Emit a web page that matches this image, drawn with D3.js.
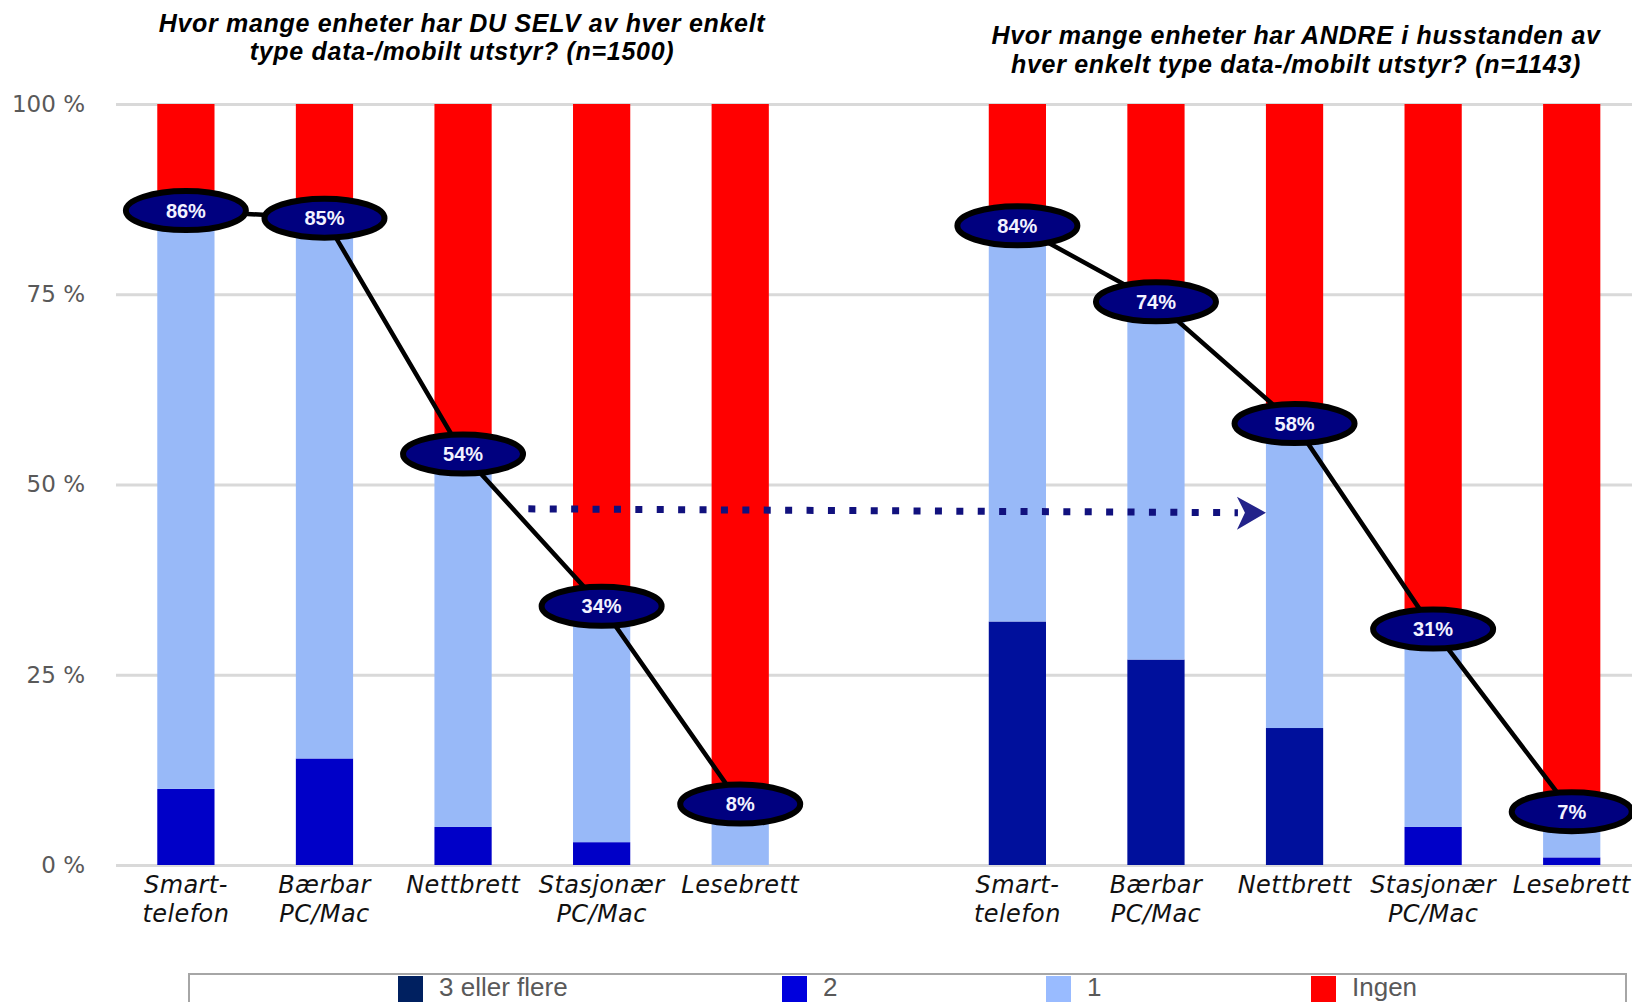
<!DOCTYPE html>
<html>
<head>
<meta charset="utf-8">
<script src="https://cdn.jsdelivr.net/npm/d3@7"></script>
<style>
  html, body { margin: 0; padding: 0; background: #ffffff; }
  svg { display: block; }
</style>
</head>
<body>
<svg id="chart" width="1632" height="1002"></svg>
<script>
// ---------------- data ----------------
const categories = ["Smart-\ntelefon", "Bærbar\nPC/Mac", "Nettbrett", "Stasjonær\nPC/Mac", "Lesebrett"];
const seriesNames = ["3 eller flere", "2", "1", "Ingen"];

// "DU SELV" (n=1500)
const selvTreEllerFlere = [0, 0, 0, 0, 0];
const selvTo = [10, 14, 5, 3, 0];
const selvEn = [76, 71, 49, 31, 8];
const selvIngen = [14, 15, 46, 66, 92];
const selvTotal = [86, 85, 54, 34, 8];

// "ANDRE i husstanden" (n=1143)
const andreTreEllerFlere = [32, 27, 18, 0, 0];
const andreTo = [0, 0, 0, 5, 1];
const andreEn = [52, 47, 40, 26, 6];
const andreIngen = [16, 26, 42, 69, 93];
const andreTotal = [84, 74, 58, 31, 7];

const yTicks = [0, 25, 50, 75, 100];
const titleSelv = ["Hvor mange enheter har DU SELV av hver enkelt", "type data-/mobilt utstyr? (n=1500)"];
const titleAndre = ["Hvor mange enheter har ANDRE i husstanden av", "hver enkelt type data-/mobilt utstyr? (n=1143)"];

// annotation arrow (value level in %)
const arrowFromValue = 46.8;
const arrowToValue = 46.3;

// ---------------- build ----------------
const slotsL = categories.map((c, i) => "L" + i);
const slotsR = categories.map((c, i) => "R" + i);
const slots = [...slotsL, "gap", ...slotsR];
const labelOf = {};
categories.forEach((c, i) => { labelOf["L" + i] = c; labelOf["R" + i] = c; });

const keys = ["tre", "to", "en", "ingen"];
const rows = [];
categories.forEach((c, i) => rows.push({ slot: "L" + i, tre: selvTreEllerFlere[i], to: selvTo[i], en: selvEn[i], ingen: selvIngen[i] }));
categories.forEach((c, i) => rows.push({ slot: "R" + i, tre: andreTreEllerFlere[i], to: andreTo[i], en: andreEn[i], ingen: andreIngen[i] }));

const barColors = { tre: "#00109c", to: "#0000c8", en: "#98b9f8", ingen: "#ff0000" };
const legendColors = ["#002060", "#0000dd", "#99bbff", "#ff0000"];

const svg = d3.select("#chart");
const W = 1632;

const x = d3.scaleBand().domain(slots).range([116.6, 1641]).paddingInner(0.587).paddingOuter(0.2935);
const y = d3.scaleLinear().domain([0, 100]).range([865, 104]);

// grid + y axis
const yAxis = d3.axisLeft(y).tickValues(yTicks).tickFormat(d => d + " %").tickSize(-(W - 116)).tickPadding(31);
const gy = svg.append("g").attr("transform", "translate(116,0)").call(yAxis);
gy.select(".domain").remove();
gy.selectAll(".tick line").attr("stroke", "#d9d9d9").attr("stroke-width", 3);
gy.selectAll(".tick text")
  .attr("fill", "#595959")
  .style("font-family", "'DejaVu Sans', sans-serif")
  .style("font-size", "23px");

// bars
const stacked = d3.stack().keys(keys)(rows);
svg.append("g").selectAll("g").data(stacked).join("g")
  .attr("fill", d => barColors[d.key])
  .selectAll("rect").data(d => d).join("rect")
  .attr("x", d => x(d.data.slot))
  .attr("width", x.bandwidth())
  .attr("y", d => y(d[1]))
  .attr("height", d => y(d[0]) - y(d[1]));

// x axis labels
const xAxis = d3.axisBottom(x).tickSize(0).tickFormat(d => labelOf[d] || "");
const gx = svg.append("g").attr("transform", "translate(0,865)").call(xAxis);
gx.select(".domain").remove();
gx.selectAll(".tick text").each(function(d) {
  const t = d3.select(this);
  t.text(null).attr("y", 0).attr("dy", null);
  const lines = (labelOf[d] || "").split("\n");
  lines.forEach((ln, i) => {
    t.append("tspan").attr("x", 0).attr("y", 28 + i * 29).text(ln);
  });
})
  .attr("fill", "#111")
  .style("font-family", "'DejaVu Sans', sans-serif")
  .style("font-style", "italic")
  .style("font-size", "24px")
  .style("letter-spacing", "0.4px");

// dotted arrow annotation
const ax0 = x("L2") + x.bandwidth() + (x.step() - x.bandwidth()) / 2 - 4;
const ax1 = x("R2");
const ay0 = y(arrowFromValue), ay1 = y(arrowToValue);
svg.append("line")
  .attr("x1", ax0).attr("y1", ay0)
  .attr("x2", ax1 - 28).attr("y2", ay1)
  .attr("stroke", "#11117e").attr("stroke-width", 7)
  .attr("stroke-dasharray", "7 14.4");
svg.append("path")
  .attr("d", `M${ax1},${ay1} L${ax1 - 29},${ay1 - 16} L${ax1 - 21},${ay1} L${ax1 - 29},${ay1 + 17} Z`)
  .attr("fill", "#23238a");

// connecting lines + ellipses
const bubbles = [];
selvTotal.forEach((v, i) => bubbles.push({ slot: "L" + i, v, grp: "L" }));
andreTotal.forEach((v, i) => bubbles.push({ slot: "R" + i, v, grp: "R" }));
const cx = d => x(d.slot) + x.bandwidth() / 2;
const line = d3.line().x(cx).y(d => y(d.v));
["L", "R"].forEach(g => {
  svg.append("path")
    .datum(bubbles.filter(b => b.grp === g))
    .attr("d", line)
    .attr("fill", "none")
    .attr("stroke", "#000")
    .attr("stroke-width", 4.5);
});
const bg = svg.append("g").selectAll("g").data(bubbles).join("g")
  .attr("transform", d => `translate(${cx(d)},${y(d.v)})`);
bg.append("ellipse")
  .attr("rx", 60).attr("ry", 19.5)
  .attr("fill", "#00007f").attr("stroke", "#000").attr("stroke-width", 6);
bg.append("text")
  .attr("text-anchor", "middle").attr("dy", "0.36em")
  .attr("fill", "#f2f2ff")
  .style("font-family", "'Liberation Sans', Arial, sans-serif")
  .style("font-weight", "bold")
  .style("font-size", "20px")
  .text(d => d.v + "%");

// titles
function title(lines, cxPos, y0) {
  const t = svg.append("text")
    .attr("text-anchor", "middle")
    .attr("fill", "#000")
    .style("font-family", "'Liberation Sans', Arial, sans-serif")
    .style("font-weight", "bold")
    .style("font-style", "italic")
    .style("font-size", "25px")
    .style("letter-spacing", "0.7px");
  lines.forEach((ln, i) => t.append("tspan").attr("x", cxPos).attr("y", y0 + i * 28.5).text(ln));
}
title(titleSelv, 462, 31.5);
title(titleAndre, 1296, 44);

// legend
svg.append("rect")
  .attr("x", 189).attr("y", 974).attr("width", 1437).attr("height", 60)
  .attr("fill", "#fff").attr("stroke", "#a6a6a6").attr("stroke-width", 2);
const legendX = [398, 782, 1046, 1311];
const lg = svg.append("g").selectAll("g").data(seriesNames).join("g")
  .attr("transform", (d, i) => `translate(${legendX[i]},0)`);
lg.append("rect").attr("x", 0).attr("y", 976).attr("width", 25).attr("height", 30)
  .attr("fill", (d, i) => legendColors[i]);
lg.append("text").attr("x", 41).attr("y", 996)
  .attr("fill", "#595959")
  .style("font-family", "'Liberation Sans', Arial, sans-serif")
  .style("font-size", "26px")
  .text(d => d);
</script>
</body>
</html>
